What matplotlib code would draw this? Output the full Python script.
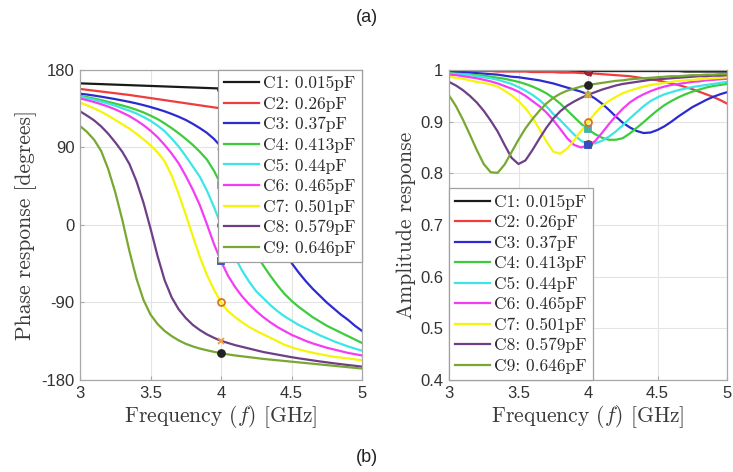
import numpy as np
import matplotlib
matplotlib.use('Agg')
import matplotlib.pyplot as plt
from matplotlib.lines import Line2D

plt.rcParams['mathtext.fontset'] = 'cm'
plt.rcParams['axes.unicode_minus'] = False
plt.rcParams['font.family'] = ['Liberation Sans', 'DejaVu Sans']

# frequency grid (GHz), 0.05 step
freq = np.linspace(3.0, 5.0, 41)

labels = ['C1: 0.015pF', 'C2: 0.26pF', 'C3: 0.37pF', 'C4: 0.413pF', 'C5: 0.44pF',
          'C6: 0.465pF', 'C7: 0.501pF', 'C8: 0.579pF', 'C9: 0.646pF']

# phase response [degrees]
phase_c1 = [164.5, 164.2, 163.9, 163.6, 163.3, 163.0, 162.7, 162.4, 162.1, 161.8, 161.5,
            161.2, 160.9, 160.6, 160.3, 160.0, 159.7, 159.4, 159.1, 158.8, 158.5,
            158.2, 157.9, 157.6, 157.3, 157.0, 156.7, 156.4, 156.1, 155.8, 155.5,
            155.2, 154.9, 154.6, 154.3, 154.0, 153.7, 153.4, 153.1, 152.8, 152.5]
phase_c2 = [158, 157, 156, 155, 154, 153, 152, 151, 149.8, 148.6, 147.4,
            146.2, 145, 143.8, 142.6, 141.4, 140.2, 139, 137.8, 136.6, 135.5,
            134, 132.5, 131, 129.4, 127.7, 126, 124, 122, 120, 118,
            115.5, 113, 110.5, 108, 105, 102, 99, 96, 92.5, 89]
phase_c3 = [152.5, 151.5, 150.3, 149, 147.6, 146.2, 144.6, 143, 141.2, 139.2, 137,
            134.6, 132, 129, 125.7, 122, 117.5, 112.5, 107, 100, 91,
            81, 70, 57, 43, 28, 12, -4, -19, -32, -44,
            -55, -65, -74, -82, -90, -97, -104, -110, -117, -123]
phase_c4 = [150, 148.5, 146.8, 145, 143, 141, 138.8, 136.5, 133.8, 130.7, 127,
            123, 118, 112.5, 106.5, 100, 93, 85, 76, 63, 47,
            31, 14, -3, -19, -34, -47, -59, -70, -80, -88,
            -95, -101, -107, -112, -117, -121, -125, -129, -133, -137]
phase_c5 = [149, 147.3, 145.4, 143.3, 141, 138.5, 135.6, 132.8, 129.5, 125.5, 121,
            115.5, 109, 100.5, 91, 80, 68, 56, 40, 21, 0,
            -20, -38, -53, -66, -77, -85, -93, -100, -106, -111,
            -116, -120, -124, -128, -131.5, -135, -138, -141, -143.5, -146]
phase_c6 = [147, 145, 142.8, 140.3, 137.5, 134.3, 130.5, 126.5, 121.5, 116, 109.5,
            102, 93, 83, 71.5, 57, 41, 23, 1, -22, -42,
            -59, -72, -83, -92, -100, -107, -113, -118.5, -123, -127.5,
            -131, -134.5, -137.5, -140, -142.5, -144.5, -146.5, -148.5, -150, -151.5]
phase_c7 = [142, 139, 135.5, 131.5, 127, 122, 117, 112, 106, 99.5, 92.5,
            84.5, 74, 57.5, 36, 12, -13, -37, -58, -75, -90,
            -100, -107, -113, -118.5, -123, -127, -131, -135, -139, -142,
            -144.5, -146.5, -148.3, -150, -151.5, -153, -154, -155, -156, -157]
phase_c8 = [132, 127, 121.5, 114.5, 106, 96, 85, 71, 51, 26, -4,
            -36, -64, -84, -98, -108, -116, -122, -127, -131, -134.5,
            -137, -139.5, -141.5, -143.5, -145.5, -147.5, -149, -150.5, -152, -153.5,
            -154.8, -156, -157.2, -158.4, -159.5, -160.6, -161.6, -162.6, -163.5, -164.5]
phase_c9 = [115, 108, 99, 86, 65, 38, 6, -30, -62, -87, -104,
            -115, -123, -129, -134, -138, -141, -143.5, -145.5, -147.3, -149,
            -150.3, -151.5, -152.5, -153.5, -154.5, -155.5, -156.3, -157.1, -157.9, -158.7,
            -159.5, -160.3, -161.1, -161.9, -162.7, -163.5, -164.3, -165.1, -165.9, -166.7]

# amplitude response
amp_c1 = [0.999, 0.999, 0.999, 0.999, 0.999, 0.999, 0.999, 0.999, 0.999, 0.999, 0.999,
          0.999, 0.999, 0.999, 0.999, 0.999, 0.999, 0.999, 0.998, 0.998, 0.998,
          0.998, 0.998, 0.998, 0.998, 0.998, 0.998, 0.998, 0.998, 0.998, 0.998,
          0.998, 0.998, 0.998, 0.997, 0.997, 0.997, 0.997, 0.997, 0.997, 0.997]
amp_c2 = [0.998, 0.998, 0.998, 0.998, 0.998, 0.998, 0.998, 0.997, 0.997, 0.997, 0.997,
          0.997, 0.996, 0.996, 0.996, 0.996, 0.995, 0.995, 0.995, 0.994, 0.994,
          0.993, 0.992, 0.991, 0.990, 0.989, 0.988, 0.986, 0.984, 0.982, 0.980,
          0.977, 0.974, 0.971, 0.967, 0.963, 0.958, 0.953, 0.948, 0.942, 0.935]
amp_c3 = [0.997, 0.996, 0.996, 0.995, 0.994, 0.993, 0.992, 0.991, 0.989, 0.987, 0.986,
          0.984, 0.982, 0.980, 0.977, 0.974, 0.970, 0.966, 0.962, 0.958, 0.953,
          0.945, 0.935, 0.923, 0.910, 0.898, 0.889, 0.882, 0.878, 0.879, 0.884,
          0.891, 0.900, 0.910, 0.919, 0.928, 0.935, 0.942, 0.948, 0.953, 0.957]
amp_c4 = [0.994, 0.993, 0.992, 0.991, 0.990, 0.989, 0.987, 0.985, 0.983, 0.980, 0.977,
          0.973, 0.968, 0.962, 0.955, 0.946, 0.935, 0.922, 0.909, 0.896, 0.885,
          0.876, 0.869, 0.865, 0.865, 0.868, 0.877, 0.888, 0.899, 0.911, 0.922,
          0.932, 0.940, 0.947, 0.953, 0.958, 0.962, 0.966, 0.969, 0.971, 0.973]
amp_c5 = [0.993, 0.992, 0.991, 0.990, 0.988, 0.986, 0.984, 0.981, 0.977, 0.973, 0.967,
          0.960, 0.952, 0.942, 0.930, 0.915, 0.903, 0.889, 0.875, 0.863, 0.857,
          0.858, 0.863, 0.871, 0.881, 0.893, 0.906, 0.918, 0.930, 0.940, 0.947,
          0.953, 0.957, 0.961, 0.964, 0.967, 0.969, 0.971, 0.973, 0.975, 0.977]
amp_c6 = [0.991, 0.990, 0.988, 0.986, 0.984, 0.981, 0.978, 0.974, 0.969, 0.964, 0.958,
          0.950, 0.940, 0.930, 0.918, 0.903, 0.886, 0.868, 0.855, 0.850, 0.854,
          0.862, 0.878, 0.895, 0.911, 0.925, 0.937, 0.946, 0.953, 0.959, 0.964,
          0.968, 0.971, 0.973, 0.975, 0.977, 0.978, 0.980, 0.981, 0.982, 0.983]
amp_c7 = [0.987, 0.985, 0.983, 0.980, 0.977, 0.975, 0.972, 0.968, 0.960, 0.951, 0.940,
          0.926, 0.908, 0.886, 0.862, 0.842, 0.838, 0.848, 0.864, 0.882, 0.899,
          0.916, 0.930, 0.940, 0.948, 0.955, 0.960, 0.964, 0.968, 0.971, 0.973,
          0.975, 0.977, 0.979, 0.980, 0.981, 0.982, 0.983, 0.984, 0.985, 0.986]
amp_c8 = [0.977, 0.970, 0.961, 0.950, 0.937, 0.921, 0.902, 0.881, 0.855, 0.830, 0.818,
          0.825, 0.845, 0.867, 0.888, 0.906, 0.920, 0.931, 0.939, 0.946, 0.952,
          0.957, 0.962, 0.966, 0.970, 0.973, 0.975, 0.977, 0.979, 0.981, 0.982,
          0.983, 0.984, 0.985, 0.986, 0.987, 0.988, 0.988, 0.989, 0.989, 0.990]
amp_c9 = [0.951, 0.930, 0.904, 0.875, 0.845, 0.818, 0.802, 0.801, 0.817, 0.841, 0.865,
          0.887, 0.905, 0.921, 0.935, 0.946, 0.954, 0.960, 0.964, 0.968, 0.971,
          0.973, 0.975, 0.977, 0.979, 0.980, 0.982, 0.983, 0.984, 0.985, 0.986,
          0.987, 0.988, 0.988, 0.989, 0.990, 0.990, 0.991, 0.991, 0.992, 0.992]

phases = [phase_c1, phase_c2, phase_c3, phase_c4, phase_c5, phase_c6, phase_c7, phase_c8, phase_c9]
amps = [amp_c1, amp_c2, amp_c3, amp_c4, amp_c5, amp_c6, amp_c7, amp_c8, amp_c9]

colors = ['#1a1a1a', '#f03c3c', '#2b2bd0', '#3ccc3c', '#3ce6e6',
          '#f53cf5', '#f5f50a', '#6e3f86', '#78a832']
mk_style = ['o', '<', '^', 's', 'o', 's', 'o', 'x', 'o']
mk_color = ['#222222', '#a3203a', '#7ab648', '#4ab0a0', '#6a4a30',
            '#3050c0', '#e07020', '#f0a040', '#222222']
f_mark = 4.0
i_mark = int(np.argmin(np.abs(freq - f_mark)))

serif = 'cmr10'

fig = plt.figure(figsize=(7.33, 4.72), dpi=100)
ax1 = fig.add_axes([80 / 733, 1 - 380 / 472, 282 / 733, 310 / 472])
ax2 = fig.add_axes([449 / 733, 1 - 380 / 472, 278 / 733, 310 / 472])


def style_axes(ax):
    ax.grid(True, color='#e4e4e4', lw=0.8)
    ax.set_axisbelow(True)
    for sp in ax.spines.values():
        sp.set_color('#a8a8a8')
        sp.set_linewidth(0.9)
    ax.tick_params(direction='in', length=3, color='#a8a8a8', labelsize=12,
                   labelcolor='#333333', pad=4)
    ax.set_xlim(3, 5)
    ax.set_xticks([3, 3.5, 4, 4.5, 5])
    ax.set_xticklabels(['3', '3.5', '4', '4.5', '5'])
    ax.set_xlabel('Frequency $(f)$ [GHz]', family=serif, fontsize=15.5, color='#3a3a3a', labelpad=2)


handles = []
for k in range(9):
    ax1.plot(freq, phases[k], color=colors[k], lw=1.6)
    ax2.plot(freq, amps[k], color=colors[k], lw=1.6)
    handles.append(Line2D([], [], color=colors[k], lw=1.6))
for k in range(9):
    face = mk_color[k] if mk_style[k] != 'o' or k in (0, 8) else 'none'
    ax1.plot(freq[i_mark], phases[k][i_mark], marker=mk_style[k], ms=5,
             color=mk_color[k], mfc=face, mew=1.3, ls='none')
    ax2.plot(freq[i_mark], amps[k][i_mark], marker=mk_style[k], ms=5,
             color=mk_color[k], mfc=face, mew=1.3, ls='none')

style_axes(ax1)
ax1.set_ylim(-180, 180)
ax1.set_yticks([-180, -90, 0, 90, 180])
ax1.set_ylabel('Phase response [degrees]', family=serif, fontsize=15.5, color='#3a3a3a', labelpad=3)

style_axes(ax2)
ax2.set_ylim(0.4, 1.0)
ax2.set_yticks([0.4, 0.5, 0.6, 0.7, 0.8, 0.9, 1.0])
ax2.set_yticklabels(['0.4', '0.5', '0.6', '0.7', '0.8', '0.9', '1'])
ax2.set_ylabel('Amplitude response', family=serif, fontsize=15.5, color='#3a3a3a', labelpad=3)

leg_kw = dict(prop={'family': serif, 'size': 12.5}, frameon=True, fancybox=False,
              edgecolor='#a0a0a0', framealpha=1, borderaxespad=0, handlelength=2.0,
              handletextpad=0.25, labelspacing=0.3, borderpad=0.35)
l1 = ax1.legend(handles, labels, loc='upper right', **leg_kw)
l2 = ax2.legend(handles, labels, loc='lower left', **leg_kw)
for lg in (l1, l2):
    lg.get_frame().set_linewidth(0.9)
    for t in lg.get_texts():
        t.set_color('#2a2a2a')

fig.text(0.5, 1 - 18 / 472, '(a)', ha='center', va='center', fontsize=13, color='#222222')
fig.text(0.5, 1 - 458 / 472, '(b)', ha='center', va='center', fontsize=13, color='#222222')

fig.savefig('out.png', dpi=100)
